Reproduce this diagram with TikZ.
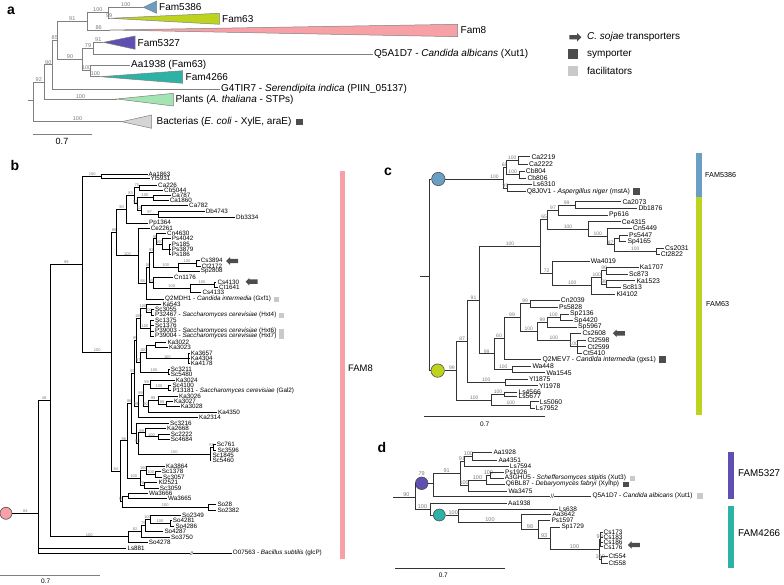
\documentclass[tikz,border=0pt]{standalone}
\usepackage{fontspec}
\setmainfont{Liberation Sans}
\usetikzlibrary{shapes.arrows,positioning}

\definecolor{famblue}{HTML}{6A9EC3}
\definecolor{famgreen}{HTML}{BDD31E}
\definecolor{fampink}{HTML}{F7A1A6}
\definecolor{fampurple}{HTML}{5E4FB2}
\definecolor{famteal}{HTML}{2EB2A6}
\definecolor{plantgreen}{HTML}{A3E4B3}
\definecolor{bactgray}{HTML}{D5D5D5}
\definecolor{symc}{HTML}{4D4D4D}
\definecolor{facc}{HTML}{C9C9C9}
\definecolor{agray}{HTML}{808080}
\definecolor{bsgray}{HTML}{7A7A7A}
\definecolor{cline}{HTML}{333333}

% branch to an inner node, branch to a labelled leaf
\newcommand\brnode[5]{\coordinate (#2) at (#3,#4);
  \draw[branch] (#1) |- node[bs] (#2-bs) {#5} (#2);}
\newcommand\brleaf[5]{\coordinate (#2) at (#3,#4);
  \draw[branch] (#1) |- (#2);
  \node[lbl] (#2-l) at (#2) {#5};}

\begin{document}
\begin{tikzpicture}[
    % style def
    x=1pt, y=-1pt,
    branch/.style={line width=0.55pt},
    bs/.style={pos=0.75, above, inner sep=0.3pt, text=bsgray, font=\fontsize{4}{4}\selectfont},
    lbl/.style={anchor=west, inner sep=1pt, font=\fontsize{6.3}{7}\selectfont},
    tri/.style={draw=agray, line width=0.5pt},
    sym/.style={fill=symc, inner sep=0pt},
    fac/.style={fill=facc, inner sep=0pt},
    sojae/.style={single arrow, fill=symc, inner sep=2pt, single arrow head extend=1.6pt, minimum height=12pt},
    rootdot/.style={circle, draw=symc, line width=0.6pt, inner sep=0pt},
    plet/.style={font=\fontsize{14}{14}\selectfont\bfseries},
    fam/.style={anchor=west, inner sep=0pt},
    brk/.style={fill=white, inner sep=0.4pt, font=\fontsize{5}{5}\selectfont},
    every node/.style={color=black}
    ]
\useasboundingbox (0,0) rectangle (784,585);

\node[plet] (la) at (11,11) {a};
\node[plet] (lb) at (15,165) {b};
\node[plet] (lc) at (388,172) {c};
\node[plet] (ld) at (382,447) {d};

% panel a: families collapsed
\begin{scope}[branch/.style={line width=0.9pt, draw=agray},
    bs/.append style={font=\fontsize{5.5}{5.5}\selectfont},
    lbl/.append style={font=\fontsize{10}{12}\selectfont}]
  \coordinate (aS) at (27.7,100.5);
  \coordinate (aR) at (33.3,100.5);
  \draw[branch] (aS) -- (aR);
  \brnode{aR}{a92}{44.3}{82}{92}
  \brnode{aR}{tBac}{121.7}{121.7}{100}
  \brnode{a92}{a90}{52.3}{64.9}{90}
  \brnode{a92}{tPl}{116.7}{99}{100}
  \brnode{a90}{a85}{57.3}{40.5}{85}
  \brleaf{a90}{aG4}{220}{89.3}{G4TIR7 - \textit{Serendipita indica} (PIIN\_05137)}
  \brnode{a85}{a91}{87.3}{21.4}{91}
  \brnode{a85}{a90b}{82.7}{59.5}{90}
  \brnode{a91}{a100a}{108.3}{12.8}{100}
  \brnode{a91}{t8}{110}{30}{86}
  \brnode{a100a}{t5386}{143.3}{7.3}{100}
  \brnode{a100a}{t63}{110}{18.3}{99}
  \brnode{a90b}{a79}{93.3}{48.2}{79}
  \brnode{a90b}{a100c}{90.7}{70.8}{100}
  \brnode{a79}{t5327}{103.3}{42.3}{91}
  \brleaf{a79}{aQ5}{373}{54}{Q5A1D7 - \textit{Candida albicans} (Xut1)}
  \brleaf{a100c}{aAa}{130}{65}{Aa1938 (Fam63)}
  \brnode{a100c}{t4266}{100}{76.7}{100}
  \filldraw[tri, fill=famblue] (t5386) -- (156.7,1) -- (156.7,13.3) -- cycle;
  \filldraw[tri, fill=famgreen] (t63) -- (219.3,13.3) -- (219.3,24.3) -- cycle;
  \filldraw[tri, fill=fampink] (t8) -- (457.7,24.3) -- (457.7,36.7) -- cycle;
  \filldraw[tri, fill=fampurple] (t5327) -- (135,36) -- (135,49.3) -- cycle;
  \filldraw[tri, fill=famteal] (t4266) -- (182.7,70.7) -- (182.7,83.3) -- cycle;
  \filldraw[tri, fill=plantgreen] (tPl) -- (173.3,93.3) -- (173.3,106) -- cycle;
  \filldraw[tri, fill=bactgray] (tBac) -- (151.7,115) -- (151.7,128.3) -- cycle;
  \node[lbl] (f5386) at (158,7.3) {Fam5386};
  \node[lbl] (f63) at (221,19) {Fam63};
  \node[lbl] (f8) at (459.5,30.5) {Fam8};
  \node[lbl] (f5327) at (136.5,43) {Fam5327};
  \node[lbl] (f4266) at (184.5,77) {Fam4266};
  \node[lbl] (fPl) at (174.5,100) {Plants (\textit{A. thaliana} - STPs)};
  \node[lbl] (fBac) at (155.5,122) {Bacterias (\textit{E. coli} - XylE, araE)};
  \node[sym, minimum size=6.7pt, right=3pt of fBac] (aSym) {};
  \draw[branch] (33.3,134.3) coordinate (aSc0) -- (92.3,134.3) coordinate (aSc1);
  \node[font=\fontsize{9}{9}\selectfont] (aScl) at (62,141.5) {0.7};
\end{scope}

% legend
\begin{scope}[lbl/.append style={font=\fontsize{10}{12}\selectfont}]
  \node[sojae, minimum height=12pt, single arrow head extend=2.2pt] (lgArr) at (574.3,37.3) {};
  \node[lbl] (lgT1) at (586,37.3) {\textit{C. sojae} transporters};
  \node[sym, minimum size=10pt] (lgSym) at (572.7,54) {};
  \node[lbl] (lgT2) at (586,54) {symporter};
  \node[fac, minimum size=10pt] (lgFac) at (572.7,71) {};
  \node[lbl] (lgT3) at (586,71) {facilitators};
\end{scope}

% panel b: FAM8
\begin{scope}[branch/.style={line width=0.6pt, draw=black}]
  \node[rootdot, fill=fampink, minimum size=12pt] (b0) at (6,513.3) {};
  \coordinate (bR) at (38.3,513.3);
  \draw[branch] (b0) -- node[bs,pos=0.5] (bR-bs) {84} (bR);
  \brnode{bR}{b48}{50}{400.4}{48}
  \brleaf{bR}{Ls881}{126.3}{548.3}{Ls881}
  \brleaf{bR}{O07563}{231.7}{553.3}{O07563 - \textit{Bacillus subtilis} (glcP)}
  \node[brk] (bBrk) at (191.7,553.3) {//};
  \brnode{b48}{b99}{82.7}{264.1}{99}
  \brnode{b48}{b100so}{128.3}{536.7}{100}
  \brnode{b99}{b100aa}{101.7}{176.3}{100}
  \brnode{b99}{b100big}{111.7}{351.9}{100}
  \brleaf{b100aa}{Aa1863}{147.5}{174.3}{Aa1863}
  \brleaf{b100aa}{Yl5931}{149.5}{178.3}{Yl5931}
  \brnode{b100big}{b88}{116.7}{232.6}{88}
  \brnode{b100big}{b84}{120}{471.1}{84}
  \brnode{b88}{b90}{126.7}{209.5}{90}
  \brnode{b88}{b100b}{138.3}{255.8}{100}
  \brnode{b90}{b83}{134.3}{195.6}{83}
  \brleaf{b90}{Pp1364}{148}{223.3}{Pp1364}
  \brnode{b83}{b75}{139.3}{187.5}{75}
  \brnode{b83}{b52a}{137}{203.7}{52}
  \brleaf{b75}{Ca226}{157}{185}{Ca226}
  \brleaf{b75}{Cb5044}{163}{190}{Cb5044}
  \brnode{b52a}{b100c}{153}{197.5}{100}
  \brnode{b52a}{b52b}{141}{210}{52}
  \brleaf{b100c}{Ca787}{170.7}{195}{Ca787}
  \brleaf{b100c}{Ca1860}{168.7}{200}{Ca1860}
  \brleaf{b52b}{Ca782}{188}{205.7}{Ca782}
  \brnode{b52b}{b97}{158}{214.3}{97}
  \brleaf{b97}{Db4743}{204.7}{211}{Db4743}
  \brleaf{b97}{Db3334}{235}{217.7}{Db3334}
  \brleaf{b100b}{Ce2261}{149.7}{228.3}{Ce2261}
  \brnode{b100b}{b98}{146.7}{283.3}{98}
  \brnode{b98}{b58}{149.3}{267.5}{58}
  \brleaf{b98}{Q2MDH1}{164}{299}{Q2MDH1 - \textit{Candida intermedia} (Gxf1)}
  \brnode{b58}{b93}{153.3}{252.3}{93}
  \brnode{b58}{b85}{153.3}{282.8}{85}
  \brnode{b93}{b98d}{156.7}{238.7}{98}
  \brnode{b93}{b100e}{178}{267}{100}
  \brleaf{b98d}{Cn4630}{166}{233.3}{Cn4630}
  \brnode{b98d}{b100p}{162}{244}{100}
  \brleaf{b100p}{Ps4042}{170.7}{238.7}{Ps4042}
  \brnode{b100p}{b100q}{169.3}{249.3}{}
  \brleaf{b100q}{Ps185}{170.7}{244}{Ps185}
  \brleaf{b100q}{Ps3879}{170.7}{249.3}{Ps3879}
  \brleaf{b100q}{Ps186}{170.7}{254.3}{Ps186}
  \brnode{b100e}{b100f}{196}{263.3}{100}
  \brleaf{b100e}{Sp2808}{199.7}{271}{Sp2808}
  \brleaf{b100f}{Cs3894}{199.7}{260.7}{Cs3894}
  \brleaf{b100f}{Ct2172}{200.7}{266}{Ct2172}
  \brleaf{b85}{Cn1176}{173}{277}{Cn1176}
  \brnode{b85}{b100g}{190}{288.6}{100}
  \brnode{b100g}{b100h}{214}{284.5}{100}
  \brleaf{b100g}{Cs4133}{201.3}{292.7}{Cs4133}
  \brleaf{b100h}{Cs4130}{216.3}{282}{Cs4130}
  \brleaf{b100h}{Ct1641}{218}{287}{Ct1641}
  \brnode{b84}{b96}{127.7}{440.7}{96}
  \brnode{b84}{b55}{122}{501.5}{55}
  \brnode{b55}{bWa}{128.3}{496}{}
  \brnode{b55}{b100so2}{208.3}{507}{100}
  \brleaf{bWa}{Wa3666}{148}{493.3}{Wa3666}
  \brleaf{bWa}{Wa3665}{167}{498.7}{Wa3665}
  \brleaf{b100so2}{So28}{216.3}{504}{So28}
  \brleaf{b100so2}{So2382}{216.3}{510}{So2382}
  \brnode{b96}{b86}{131}{403.3}{86}
  \brnode{b96}{b100k}{140}{478}{100}
  \brnode{b86}{b93m}{134}{373.2}{93}
  \brnode{b86}{b84b}{136.7}{433.3}{}
  \brnode{b93m}{b95}{136.7}{340}{95}
  \brnode{b93m}{b99b}{138.3}{406.4}{99}
  \brnode{b95}{b100A}{140}{318.3}{100}
  \brnode{b95}{b97m}{140}{361.8}{97}
  \brnode{b100A}{b100B}{146}{308.2}{100}
  \brnode{b100A}{b100D}{150}{328.5}{100}
  \brleaf{b100B}{Ka543}{161.3}{304}{Ka543}
  \brnode{b100B}{b100C}{151}{312.3}{100}
  \brleaf{b100C}{Sc3055}{154}{309.3}{Sc3055}
  \brleaf{b100C}{P32467}{154}{315.3}{P32467 - \textit{Saccharomyces cerevisiae} (Hxt4)}
  \brleaf{b100D}{Sc1375}{154}{320.7}{Sc1375}
  \brleaf{b100D}{Sc1376}{154}{325.7}{Sc1376}
  \brleaf{b100D}{P39003}{154}{331}{P39003 - \textit{Saccharomyces cerevisiae} (Hxt6)}
  \brleaf{b100D}{P39004}{154}{336.3}{P39004 - \textit{Saccharomyces cerevisiae} (Hxt7)}
  \brnode{b97m}{b100E}{146.7}{351.8}{100}
  \brnode{b97m}{b100F}{168}{371.8}{100}
  \brnode{b100E}{b100G}{155}{344.8}{}
  \brnode{b100E}{b100H}{188}{358.7}{100}
  \brleaf{b100G}{Ka3022}{166.3}{342.3}{Ka3022}
  \brleaf{b100G}{Ka3023}{168}{347.3}{Ka3023}
  \brleaf{b100H}{Ka3657}{189.7}{353.3}{Ka3657}
  \brleaf{b100H}{Ka4304}{189.7}{358.7}{Ka4304}
  \brleaf{b100H}{Ka4178}{189.7}{363.7}{Ka4178}
  \brleaf{b100F}{Sc3211}{169.7}{369.3}{Sc3211}
  \brleaf{b100F}{Sc5480}{169.7}{374.3}{Sc5480}
  \brnode{b99b}{b90x}{143}{395.1}{99}
  \brleaf{b99b}{Ka2314}{198}{417.7}{Ka2314}
  \brnode{b90x}{b99c}{150}{384}{99}
  \brnode{b90x}{b90y}{148}{406.2}{90}
  \brleaf{b99c}{Ka3024}{174.7}{380}{Ka3024}
  \brnode{b99c}{b100I}{168}{388}{100}
  \brleaf{b100I}{Sc4100}{171.3}{385.3}{Sc4100}
  \brleaf{b100I}{P13181}{171.3}{390.7}{P13181 - \textit{Saccharomyces cerevisiae} (Gal2)}
  \brnode{b90y}{b99d}{158}{400}{99}
  \brleaf{b90y}{Ka4350}{217}{412.3}{Ka4350}
  \brleaf{b99d}{Ka3026}{178}{396}{Ka3026}
  \brnode{b99d}{b88d}{166}{404}{88}
  \brleaf{b88d}{Ka3027}{173}{401.3}{Ka3027}
  \brleaf{b88d}{Ka3028}{179.7}{406.7}{Ka3028}
  \brleaf{b84b}{Sc3216}{169}{423.3}{Sc3216}
  \brnode{b84b}{b99x}{138.3}{443.3}{84}
  \brnode{b99x}{b99y}{145}{432.7}{99}
  \brnode{b99x}{b100s}{210}{454}{100}
  \brleaf{b99y}{Ka2668}{166}{428.7}{Ka2668}
  \brnode{b99y}{b100z}{158}{436.7}{100}
  \brleaf{b100z}{Sc2222}{169.7}{434}{Sc2222}
  \brleaf{b100z}{Sc4684}{169.7}{439.3}{Sc4684}
  \brnode{b100s}{b58s}{213}{447.3}{58}
  \brleaf{b100s}{Sc1845}{211.3}{455.3}{Sc1845}
  \brleaf{b100s}{Sc5460}{211.3}{460.7}{Sc5460}
  \brleaf{b58s}{Sc761}{215.7}{444.7}{Sc761}
  \brleaf{b58s}{Sc3596}{216.3}{450}{Sc3596}
  \brnode{b100k}{b100m}{146.7}{470.5}{100}
  \brnode{b100k}{b78}{144}{485.3}{78}
  \brleaf{b100m}{Ka3864}{165}{466.7}{Ka3864}
  \brnode{b100m}{b100n}{155}{474.3}{100}
  \brleaf{b100n}{Sc1378}{160.7}{471.7}{Sc1378}
  \brleaf{b100n}{Sc3057}{162}{477}{Sc3057}
  \brleaf{b78}{Kl2521}{157.3}{482.7}{Kl2521}
  \brleaf{b78}{Sc3059}{158.7}{488}{Sc3059}
  \brnode{b100so}{b82}{141.7}{531.2}{82}
  \brleaf{b100so}{So4278}{147.7}{542.3}{So4278}
  \brnode{b82}{b79}{145}{525.3}{79}
  \brleaf{b82}{So3750}{170}{537}{So3750}
  \brnode{b79}{b100t}{150}{519.3}{100}
  \brleaf{b79}{So4287}{163.3}{531.3}{So4287}
  \brleaf{b100t}{So2349}{181}{515.3}{So2349}
  \brnode{b100t}{b100u}{170}{523.3}{100}
  \brleaf{b100u}{So4281}{171.7}{520.7}{So4281}
  \brleaf{b100u}{So4286}{174.3}{526}{So4286}
  % markers
  \node[fac, minimum size=5pt, right=1.5pt of Q2MDH1-l] (bFac1) {};
  \node[fac, minimum size=5pt, right=1.5pt of P32467-l] (bFac2) {};
  \node[fac, minimum size=5pt, right=1.5pt of P39003-l] (bFac3) {};
  \node[fac, minimum size=5pt, right=1.5pt of P39004-l] (bFac4) {};
  \node[sojae, shape border rotate=180] (bArr1) at (233.3,261) {};
  \node[sojae, shape border rotate=180] (bArr2) at (252.7,281.7) {};
  \fill[fampink] (340,171) rectangle (345,559);
  \node[fam, font=\fontsize{9.4}{10}\selectfont] (bFam) at (348,368.3) {FAM8};
  \draw[line width=1pt, draw=agray] (0,575) coordinate (bSc0) -- (100,575) coordinate (bSc1);
  \node[font=\fontsize{6.5}{6.5}\selectfont] (bScl) at (45.7,581.3) {0.7};
\end{scope}

% panel c: FAM5386 and FAM63
\begin{scope}[branch/.style={line width=0.8pt, draw=cline},
    bs/.append style={font=\fontsize{5}{5}\selectfont},
    lbl/.append style={font=\fontsize{6.8}{7.5}\selectfont}]
  \coordinate (cS) at (420,276.7);
  \coordinate (cR) at (429.3,276.7);
  \draw[branch] (cS) -- (cR);
  \node[rootdot, fill=famblue, minimum size=13.4pt] (cA) at (438.3,179) {};
  \node[rootdot, fill=famgreen, minimum size=13.4pt] (cB) at (437.7,370.6) {};
  \draw[branch] (cR) |- (cA);
  \draw[branch] (cR) |- (cB);
  \coordinate (c100a) at (503.3,179);
  \draw[branch] (cA) -- node[bs,pos=0.85] (c100a-bs) {100} (c100a);
  \brnode{c100a}{c68}{506}{167.5}{68}
  \brnode{c100a}{c99}{507.7}{188}{99}
  \brnode{c68}{c100b}{518.3}{160.3}{100}
  \brnode{c68}{c100c}{519.3}{174.7}{100}
  \brleaf{c100b}{Ca2219}{530.3}{156.7}{Ca2219}
  \brleaf{c100b}{Ca2222}{528}{164}{Ca2222}
  \brleaf{c100c}{Cb804}{524.7}{171}{Cb804}
  \brleaf{c100c}{Cb806}{526.3}{178.3}{Cb806}
  \brleaf{c99}{Ls6310}{532}{184.3}{Ls6310}
  \brleaf{c99}{Q8J0V1}{525.7}{191.7}{Q8J0V1 - \textit{Aspergillus niger} (mstA)}
  \coordinate (c99g) at (456.7,370.6);
  \draw[branch] (cB) -- node[bs,pos=0.6] (c99g-bs) {99} (c99g);
  \brnode{c99g}{c87}{467.7}{341.4}{87}
  \brnode{c99g}{c100ls}{491.7}{399.9}{100}
  \brnode{c87}{c91}{479.3}{300.2}{91}
  \brnode{c87}{c100yl}{505}{382.5}{100}
  \brnode{c91}{c100g1}{540.7}{246.5}{100}
  \brnode{c91}{c99h}{494}{353.8}{99}
  \brnode{c100g1}{c65}{547.7}{219.6}{65}
  \brnode{c100g1}{c72}{552.7}{273.3}{72}
  \brnode{c65}{c97}{558.3}{210}{97}
  \brnode{c65}{c100n}{588.3}{229.1}{100}
  \brnode{c97}{c99x}{575}{205}{99}
  \brleaf{c97}{Pp616}{608}{215}{Pp616}
  \brleaf{c99x}{Ca2073}{621.3}{201.7}{Ca2073}
  \brleaf{c99x}{Db1876}{637.3}{208.3}{Db1876}
  \brleaf{c100n}{Ce4315}{620.7}{221.7}{Ce4315}
  \brnode{c100n}{c100m}{607.3}{236.6}{100}
  \brleaf{c100m}{Cn5449}{632}{228.3}{Cn5449}
  \brnode{c100m}{c87b}{614}{244.8}{87}
  \brnode{c87b}{c0}{619}{238.3}{}
  \brnode{c87b}{c100q}{656.7}{251.3}{100}
  \brleaf{c0}{Ps5447}{628}{235}{Ps5447}
  \brleaf{c0}{Sp4165}{626.3}{241.7}{Sp4165}
  \brleaf{c100q}{Cs2031}{664}{248.3}{Cs2031}
  \brleaf{c100q}{Ct2822}{659.7}{254.3}{Ct2822}
  \brleaf{c72}{Wa4019}{589.7}{261}{Wa4019}
  \brnode{c72}{c100k1}{591.7}{285.7}{100}
  \brnode{c100k1}{c100k2}{601.7}{277.4}{100}
  \brleaf{c100k1}{Kl4102}{615.3}{294}{Kl4102}
  \brnode{c100k2}{c99a}{606.7}{270.7}{99}
  \brnode{c100k2}{c99b}{606.7}{284}{99}
  \brleaf{c99a}{Ka1707}{638.7}{267.3}{Ka1707}
  \brleaf{c99a}{Sc873}{628}{274}{Sc873}
  \brleaf{c99b}{Ka1523}{635.3}{280.7}{Ka1523}
  \brleaf{c99b}{Sc813}{621.3}{287.3}{Sc813}
  \brnode{c99h}{c60}{504}{338.3}{60}
  \brnode{c99h}{c100w}{512.7}{369.3}{100}
  \brnode{c60}{c99i}{520}{317.4}{99}
  \brleaf{c60}{Q2MEV7}{541.3}{359.3}{Q2MEV7 - \textit{Candida intermedia} (gxs1)}
  \brnode{c99i}{c99j}{530.3}{303.7}{99}
  \brnode{c99i}{c100x}{537.7}{331.2}{100}
  \brleaf{c99j}{Cn2039}{559.7}{300}{Cn2039}
  \brleaf{c99j}{Ps5828}{558}{307.3}{Ps5828}
  \brnode{c100x}{c99k}{547}{322.3}{99}
  \brnode{c100x}{c100y}{570}{340}{100}
  \brnode{c99k}{c100z}{560}{317.3}{100}
  \brleaf{c99k}{Sp5967}{577}{327.3}{Sp5967}
  \brleaf{c100z}{Sp2136}{569}{314}{Sp2136}
  \brleaf{c100z}{Sp4420}{573}{320.7}{Sp4420}
  \brleaf{c100y}{Cs2608}{581.3}{333.3}{Cs2608}
  \brnode{c100y}{c100yy}{577.3}{346.7}{100}
  \brleaf{c100yy}{Ct2598}{586.3}{340}{Ct2598}
  \brleaf{c100yy}{Ct2599}{586.3}{346.7}{Ct2599}
  \brleaf{c100yy}{Ct5410}{582}{353.3}{Ct5410}
  \brleaf{c100w}{Wa448}{531.3}{366}{Wa448}
  \brleaf{c100w}{Wa1545}{545.3}{372.7}{Wa1545}
  \brleaf{c100yl}{Yl1875}{528}{379.3}{Yl1875}
  \brleaf{c100yl}{Yl1978}{538}{385.7}{Yl1978}
  \brnode{c100ls}{c100lt}{504.3}{394.2}{100}
  \brnode{c100ls}{c100lu}{530}{405}{100}
  \brleaf{c100lt}{Ls4566}{517.3}{392}{Ls4566}
  \brleaf{c100lt}{Ls5677}{517.3}{396.5}{Ls5677}
  \brleaf{c100lu}{Ls5060}{538.7}{401.7}{Ls5060}
  \brleaf{c100lu}{Ls7952}{534.7}{408.3}{Ls7952}
  % markers
  \node[sym, minimum size=7pt, right=2pt of Q8J0V1-l] (cSym1) {};
  \node[sym, minimum size=7pt, right=2pt of Q2MEV7-l] (cSym2) {};
  \node[sojae, shape border rotate=180] (cArr) at (620,333.3) {};
  \fill[famblue] (696,153.3) rectangle (701.7,196.7);
  \fill[famgreen] (696,197) rectangle (701.7,415);
  \node[fam, font=\fontsize{7.2}{8}\selectfont] (cFam1) at (705,175) {FAM5386};
  \node[fam, font=\fontsize{7.2}{8}\selectfont] (cFam2) at (706,304) {FAM63};
  \draw[line width=1pt, draw=cline] (424.3,416.7) coordinate (cSc0) -- (545,416.7) coordinate (cSc1);
  \node[font=\fontsize{6.5}{6.5}\selectfont] (cScl) at (484.7,424.5) {0.7};
\end{scope}

% panel d: FAM5327 and FAM4266
\begin{scope}[branch/.style={line width=0.8pt, draw=cline},
    bs/.append style={font=\fontsize{5.5}{5.5}\selectfont},
    lbl/.append style={font=\fontsize{6.5}{7}\selectfont}]
  \coordinate (dS) at (393.3,497.7);
  \coordinate (dR) at (415,497.7);
  \draw[branch] (dS) -- node[bs,pos=0.6] (dR-bs) {90} (dR);
  \node[rootdot, fill=fampurple, minimum size=12.6pt] (dP) at (421.7,483.3) {};
  \draw[branch] (dR) |- (dP);
  \node[text=bsgray, inner sep=0.3pt, font=\fontsize{5.5}{5.5}\selectfont, above=0.5pt of dP] (dP-bs) {79};
  \coordinate (d79) at (433.3,483.3);
  \draw[branch] (dP) -- (d79);
  \brnode{d79}{d91a}{460}{473.6}{91}
  \brleaf{d79}{dQ5}{591.3}{496}{Q5A1D7 - \textit{Candida albicans} (Xut1)}
  \node[brk, font=\fontsize{6}{6}\selectfont] (dBrk) at (552.3,496) {//};
  \brnode{d91a}{d91b}{464}{461.7}{91}
  \brnode{d91a}{d100e}{468.3}{485.5}{100}
  \brnode{d91b}{d100f}{472.7}{456.7}{100}
  \brleaf{d91b}{Ls7594}{508.7}{466.7}{Ls7594}
  \brleaf{d100f}{Aa1928}{492.3}{452.7}{Aa1928}
  \brleaf{d100f}{Aa4351}{497.3}{460.7}{Aa4351}
  \brnode{d100e}{d100g}{486.7}{480}{100}
  \brleaf{d100e}{Wa3475}{507.3}{491}{Wa3475}
  \brnode{d100g}{d100h}{490}{475.5}{100}
  \brleaf{d100g}{Q6BL87}{504.7}{484.3}{Q6BL87 - \textit{Debaryomyces fabryi} (Xylhp)}
  \brleaf{d100h}{Ps1926}{504}{472.7}{Ps1926}
  \brleaf{d100h}{A3GHU5}{503.7}{478.3}{A3GHU5 - \textit{Scheffersomyces stipitis} (Xut3)}
  \coordinate (d100d) at (430,509.2);
  \draw[branch] (dR) |- node[bs] (d100d-bs) {100} (d100d);
  \brleaf{d100d}{dAa1938}{507}{503.3}{Aa1938}
  \node[rootdot, fill=famteal, minimum size=12pt] (dT) at (439.3,515) {};
  \draw[branch] (d100d) |- (dT);
  \coordinate (d100t) at (458.3,515);
  \draw[branch] (dT) -- node[bs,pos=0.6] (d100t-bs) {100} (d100t);
  \brleaf{d100t}{Ls638}{558}{509}{Ls638}
  \brnode{d100t}{d100u}{521.7}{522}{100}
  \brleaf{d100u}{Aa3642}{551.3}{514.6}{Aa3642}
  \brnode{d100u}{d98e}{538.3}{529}{98}
  \brleaf{d98e}{Ps1597}{550.3}{520}{Ps1597}
  \brnode{d98e}{d93}{550}{538.5}{93}
  \brleaf{d93}{Sp1729}{560.3}{527}{Sp1729}
  \brnode{d93}{d100c}{599}{549.7}{100}
  \brnode{d100c}{d99c}{600.5}{539.7}{99}
  \brnode{d100c}{d100cc}{601.5}{559.7}{100}
  \brleaf{d99c}{Cs173}{602.5}{532.5}{Cs173}
  \brleaf{d99c}{Cs183}{602.5}{537.2}{Cs183}
  \brleaf{d99c}{Cs186}{602.5}{542}{Cs186}
  \brleaf{d99c}{Cs176}{602.5}{546.8}{Cs176}
  \brleaf{d100cc}{Ct554}{607.5}{556}{Ct554}
  \brleaf{d100cc}{Ct558}{607.5}{563.3}{Ct558}
  % markers
  \node[fac, minimum size=5.5pt, right=2.5pt of A3GHU5-l] (dFac1) {};
  \node[sym, minimum size=5.5pt, right=2.5pt of Q6BL87-l] (dSym1) {};
  \node[fac, minimum size=6pt, right=3.5pt of dQ5-l] (dFac2) {};
  \node[sojae, shape border rotate=180] (dArr) at (635,545) {};
  \fill[fampurple] (728.3,452.3) rectangle (734,499.3);
  \fill[famteal] (728.3,506) rectangle (734,568.3);
  \node[fam, font=\fontsize{9.8}{10}\selectfont] (dFam1) at (738,473.3) {FAM5327};
  \node[fam, font=\fontsize{9.8}{10}\selectfont] (dFam2) at (738,533.3) {FAM4266};
  \draw[line width=1pt, draw=cline] (395,568.3) coordinate (dSc0) -- (505,568.3) coordinate (dSc1);
  \node[font=\fontsize{6.5}{6.5}\selectfont] (dScl) at (443.3,575.5) {0.7};
\end{scope}
\end{tikzpicture}
\end{document}
